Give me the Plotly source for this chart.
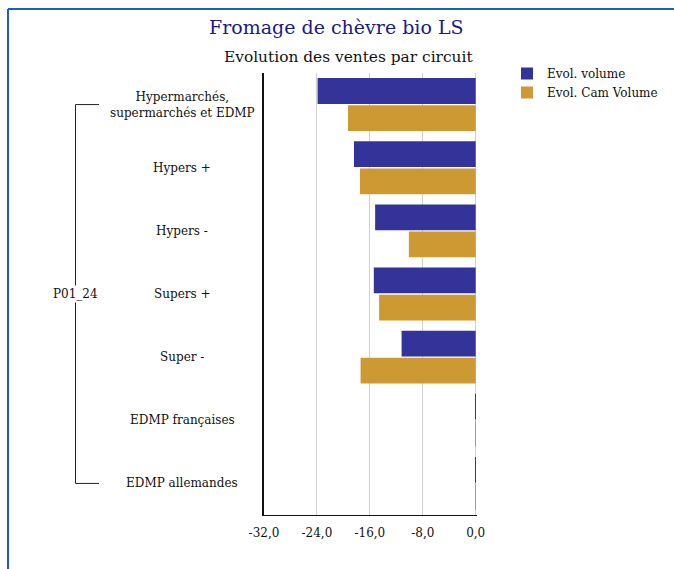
import plotly.graph_objects as go

# Channels (top to bottom) and the two series, in %
circuits = [
    "Hypermarchés,<br>supermarchés et EDMP",
    "Hypers +",
    "Hypers -",
    "Supers +",
    "Super -",
    "EDMP françaises",
    "EDMP allemandes",
]
evol_volume = [-23.9, -18.4, -15.2, -15.4, -11.2, -0.1, -0.1]
evol_cam_volume = [-19.3, -17.5, -10.1, -14.6, -17.4, -0.1, -0.1]

period_label = "P01_24"
x_tickvals = [-32, -24, -16, -8, 0]
x_ticktext = ["-32,0", "-24,0", "-16,0", "-8,0", "0,0"]

SERIF = "DejaVu Serif"
BLUE = "#333399"
GOLD = "#CC9933"
FRAME = "#1f5fb4"

fig = go.Figure()
fig.add_trace(go.Bar(
    y=circuits, x=evol_volume, orientation="h",
    name="Evol. volume", marker=dict(color=BLUE, line=dict(width=0)),
))
fig.add_trace(go.Bar(
    y=circuits, x=evol_cam_volume, orientation="h",
    name="Evol. Cam Volume", marker=dict(color=GOLD, line=dict(width=0)),
))

W, H = 674, 569
L, R, T, B = 264, 197, 73, 54
pw, ph = W - L - R, H - T - B


def px_x(px):
    return (px - L) / pw


def px_y(py):
    return 1 - (py - T) / ph


shapes = [
    # outer frame (top and left edges)
    dict(type="line", xref="paper", yref="paper",
         x0=px_x(8), x1=px_x(700), y0=px_y(9), y1=px_y(9),
         line=dict(color=FRAME, width=2)),
    dict(type="line", xref="paper", yref="paper",
         x0=px_x(8), x1=px_x(8), y0=px_y(9), y1=px_y(600),
         line=dict(color=FRAME, width=2)),
    # period bracket spanning all circuits
    dict(type="line", xref="paper", yref="y",
         x0=px_x(75.5), x1=px_x(75.5), y0=0, y1=len(circuits) - 1,
         line=dict(color="#222222", width=1)),
    dict(type="line", xref="paper", yref="y",
         x0=px_x(75.5), x1=px_x(99), y0=0, y1=0,
         line=dict(color="#222222", width=1)),
    dict(type="line", xref="paper", yref="y",
         x0=px_x(75.5), x1=px_x(99), y0=len(circuits) - 1, y1=len(circuits) - 1,
         line=dict(color="#222222", width=1)),
]

annotations = [
    dict(text="Fromage de chèvre bio LS", xref="paper", yref="paper",
         x=px_x(336), y=px_y(27), xanchor="center", yanchor="middle",
         showarrow=False, font=dict(family=SERIF, size=19, color="#1a1a8c")),
    dict(text="Evolution des ventes par circuit", xref="paper", yref="paper",
         x=px_x(348), y=px_y(57), xanchor="center", yanchor="middle",
         showarrow=False, font=dict(family=SERIF, size=15.4, color="#111111")),
    dict(text=period_label, xref="paper", yref="y",
         x=px_x(75.5), y=3, xanchor="center", yanchor="middle",
         showarrow=False, bgcolor="white", borderpad=1,
         font=dict(family=SERIF, size=12, color="#111111")),
]
for c in circuits:
    annotations.append(dict(
        text=c, xref="paper", yref="y", x=px_x(182), y=c,
        xanchor="center", yanchor="middle", align="center", showarrow=False,
        font=dict(family=SERIF, size=12, color="#111111"),
    ))

fig.update_layout(
    width=W, height=H,
    margin=dict(l=L, r=R, t=T, b=B, autoexpand=False),
    paper_bgcolor="white", plot_bgcolor="white",
    barmode="group", bargap=0.14, bargroupgap=0.05,
    font=dict(family=SERIF, size=12, color="#111111"),
    showlegend=True,
    legend=dict(x=px_x(507), y=px_y(59), xanchor="left", yanchor="top",
                font=dict(family=SERIF, size=12, color="#111111"),
                tracegroupgap=2, itemwidth=30, bgcolor="rgba(0,0,0,0)"),
    shapes=shapes, annotations=annotations,
    xaxis=dict(range=[-32, 0.2], tickvals=x_tickvals, ticktext=x_ticktext,
               showgrid=True, gridcolor="#d0d0d0", gridwidth=1,
               zeroline=False, showline=True, linecolor="#111111", linewidth=1,
               ticks="", ticklabelstandoff=7,
               tickfont=dict(family=SERIF, size=12, color="#111111")),
    yaxis=dict(autorange="reversed", showticklabels=False, showgrid=False,
               zeroline=False, showline=True, linecolor="#111111", linewidth=1.5,
               ticks=""),
)

fig.write_html("out.html")
